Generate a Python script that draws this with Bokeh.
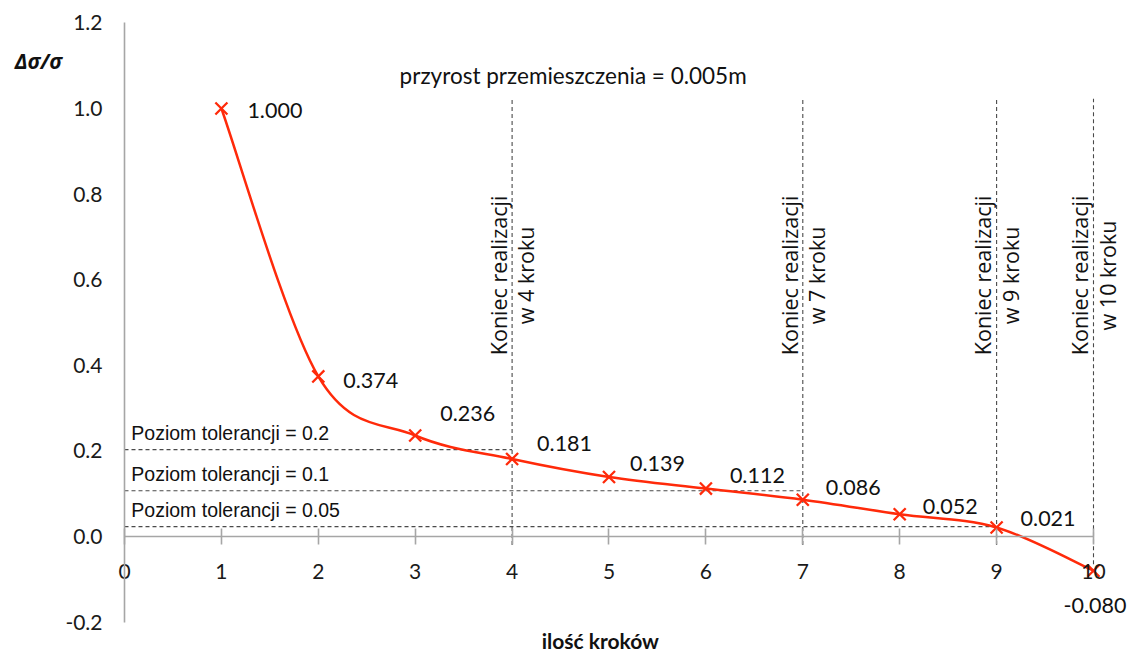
import numpy as np
from bokeh.plotting import figure
from bokeh.models import (ColumnDataSource, FixedTicker, NumeralTickFormatter, Label, Range1d)
from bokeh.core.properties import value
from bokeh.embed import file_html
from bokeh.resources import INLINE

# ---- data ----
steps = [1, 2, 3, 4, 5, 6, 7, 8, 9, 10]
ratio = [1.000, 0.374, 0.236, 0.181, 0.139, 0.112, 0.086, 0.052, 0.021, -0.080]
x_ticks = [0, 1, 2, 3, 4, 5, 6, 7, 8, 9, 10]
y_ticks = [-0.2, 0.0, 0.2, 0.4, 0.6, 0.8, 1.0, 1.2]
tol_labels = ["Poziom tolerancji = 0.2", "Poziom tolerancji = 0.1", "Poziom tolerancji = 0.05"]
tol_line_y = [0.203, 0.107, 0.023]
tol_line_end = [4, 7, 9]
end_steps = [4, 7, 9, 10]
end_labels = ["Koniec realizacji\nw 4 kroku", "Koniec realizacji\nw 7 kroku",
              "Koniec realizacji\nw 9 kroku", "Koniec realizacji\nw 10 kroku"]
end_line_bottom = [-0.02, -0.02, -0.02, -0.065]
end_line_top = 1.023
title_text = "przyrost przemieszczenia = 0.005m"
x_title = "ilość kroków"
y_title = "Δσ/σ"

# ---- styling / layout (not data) ----
RED = "#ff2a0a"
NUM_FONT = "Lato"
label_dx = [26, 25, 25, 25, 21, 24, 23, 23, 24, -30]
label_dy = [2, 4, -22, -16, -14, -13, -12, -8, -9, 35]

p = figure(width=1136, height=655, output_backend="svg", toolbar_location=None,
           x_range=Range1d(-1.2797, 10.4438), y_range=Range1d(-0.278, 1.2523),
           min_border=0, min_border_left=0, min_border_right=0,
           min_border_top=0, min_border_bottom=0)
p.outline_line_color = None
p.grid.visible = False
p.background_fill_color = "white"
p.border_fill_color = "white"

# axes crossing at origin
for ax in (p.xaxis, p.yaxis):
    ax.axis_line_color = "#a6a6a6"
    ax.axis_line_width = 1.6
    ax.major_tick_line_color = "#a6a6a6"
    ax.major_tick_line_width = 1.6
    ax.minor_tick_line_color = None
    ax.major_label_text_font = NUM_FONT
    ax.major_label_text_font_size = "21px"
    ax.major_label_text_color = "#1a1a1a"

p.xaxis.fixed_location = 0
p.xaxis.bounds = (0, 10)
p.xaxis.ticker = FixedTicker(ticks=x_ticks)
p.xaxis.formatter = NumeralTickFormatter(format="0")
p.xaxis.major_tick_in = 8
p.xaxis.major_tick_out = 8
p.xaxis.major_label_standoff = 19

p.yaxis.fixed_location = 0
p.yaxis.bounds = (-0.2, 1.2)
p.yaxis.ticker = FixedTicker(ticks=y_ticks)
p.yaxis.formatter = NumeralTickFormatter(format="0.0")
p.yaxis.major_tick_in = 0
p.yaxis.major_tick_out = 0
p.yaxis.major_label_standoff = 22

# tolerance (horizontal) dashed lines
p.segment(x0=[0] * len(tol_line_y), y0=tol_line_y, x1=tol_line_end, y1=tol_line_y,
          line_color="#4a4a4a", line_width=1.1, line_dash="4 3")
# end-of-step (vertical) dashed lines
p.segment(x0=end_steps, y0=end_line_bottom, x1=end_steps, y1=[end_line_top] * len(end_steps),
          line_color="#4a4a4a", line_width=1.1, line_dash="4 3")

# tolerance labels
p.text(x=[0.07] * len(tol_labels), y=tol_line_y, text=tol_labels,
       text_font=value("Liberation Sans"), text_font_size="19.5px",
       text_align="left", text_baseline="bottom", y_offset=-6, text_color="#111111")

# vertical labels
p.text(x=end_steps, y=[0.61] * len(end_steps), text=end_labels,
       angle=np.pi / 2, text_font=value("Open Sans"), text_font_size="21.5px",
       text_align="center", text_baseline="middle", text_line_height=0.95,
       text_color="#111111")

# smooth curve (Catmull-Rom -> cubic Bezier control points from the data)
xs = np.array(steps, dtype=float)
ys = np.array(ratio, dtype=float)
n = len(xs)
px = np.concatenate([[xs[0]], xs, [xs[-1]]])
py = np.concatenate([[ys[0]], ys, [ys[-1]]])
seg = dict(x0=[], y0=[], x1=[], y1=[], cx0=[], cy0=[], cx1=[], cy1=[])
for i in range(n - 1):
    a, b, c, d = i, i + 1, i + 2, i + 3
    seg["x0"].append(px[b]); seg["y0"].append(py[b])
    seg["x1"].append(px[c]); seg["y1"].append(py[c])
    seg["cx0"].append(px[b] + (px[c] - px[a]) / 6)
    seg["cy0"].append(py[b] + (py[c] - py[a]) / 6)
    seg["cx1"].append(px[c] - (px[d] - px[b]) / 6)
    seg["cy1"].append(py[c] - (py[d] - py[b]) / 6)
p.bezier(source=ColumnDataSource(seg), x0="x0", y0="y0", x1="x1", y1="y1",
         cx0="cx0", cy0="cy0", cx1="cx1", cy1="cy1", line_color=RED, line_width=2.5)

p.scatter(steps, ratio, marker="x", size=17, line_color=RED, line_width=2.3)

# data labels
lab_src = ColumnDataSource(dict(x=steps, y=ratio, t=[f"{v:.3f}" for v in ratio],
                                dx=label_dx, dy=label_dy))
p.text(x="x", y="y", text="t", source=lab_src, x_offset="dx", y_offset="dy",
       text_font=value(NUM_FONT), text_font_size="21.5px", text_align="left",
       text_baseline="middle", text_color="#111111")

# titles
p.add_layout(Label(x=4.63, y=1.077, text=title_text, text_font=NUM_FONT,
                   text_font_size="22.5px", text_align="center", text_baseline="middle",
                   text_color="#111111"))
p.add_layout(Label(x=-0.888, y=1.112, text=y_title, text_font="Open Sans",
                   text_font_size="21px", text_font_style="bold italic",
                   text_align="center", text_baseline="middle", text_color="#111111"))
p.add_layout(Label(x=4.91, y=-0.243, text=x_title, text_font=NUM_FONT,
                   text_font_size="21px", text_font_style="bold",
                   text_align="center", text_baseline="middle", text_color="#111111"))

open("out.html", "w").write(file_html(p, INLINE))
